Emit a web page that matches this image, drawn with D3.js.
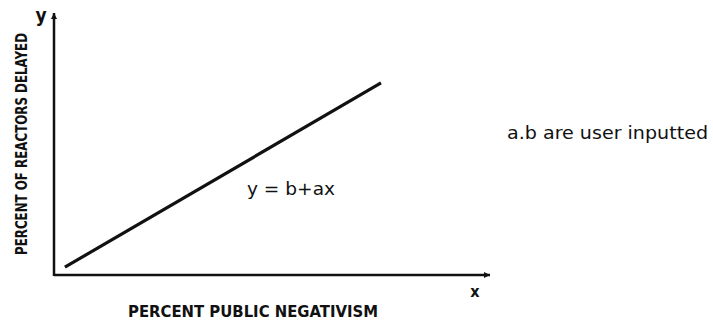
<!DOCTYPE html>
<head>
<meta charset="utf-8">
<title>Reactors delayed</title>
<script src="https://cdn.jsdelivr.net/npm/d3@7"></script>
<style>
  body { margin: 0; background: #fff; }
  text { font-family: "DejaVu Sans Condensed", "Liberation Sans Narrow", sans-serif; font-weight: bold; fill: #111; }
</style>
</head>
<body>
<div id="container"></div>
<script>
// Données : droite y = b + ax (valeurs relatives, 0-100)
const lineX = [2.5, 75];
const lineY = [3, 73.3];
const xLabel = "PERCENT PUBLIC NEGATIVISM";
const yLabel = "PERCENT OF REACTORS DELAYED";
const equation = "y  =  b+ax";
const note = "a.b are user inputted";

const W = 713, H = 321;

const svg = d3.select("#container")
  .append("svg")
  .attr("width", W)
  .attr("height", H);

// Échelles
const x = d3.scaleLinear().domain([0, 100]).range([54, 490]);
const y = d3.scaleLinear().domain([0, 100]).range([275, 13]);

// Flèches
const defs = svg.append("defs");
defs.append("marker")
  .attr("id", "arrow")
  .attr("viewBox", "0 0 10 10")
  .attr("refX", 10).attr("refY", 5)
  .attr("markerWidth", 12).attr("markerHeight", 6)
  .attr("markerUnits", "userSpaceOnUse")
  .attr("orient", "auto")
  .append("path")
  .attr("d", "M0,0 L10,5 L0,10 Z")
  .attr("fill", "#111");

// Axe X
svg.append("line")
  .attr("x1", x(0)).attr("y1", y(0))
  .attr("x2", x(100)).attr("y2", y(0))
  .attr("stroke", "#111").attr("stroke-width", 2.5)
  .attr("marker-end", "url(#arrow)");

// Axe Y
svg.append("line")
  .attr("x1", x(0)).attr("y1", y(0) + 1)
  .attr("x2", x(0)).attr("y2", y(100))
  .attr("stroke", "#111").attr("stroke-width", 2.5)
  .attr("marker-end", "url(#arrow)");

// Droite
svg.append("path")
  .datum(d3.zip(lineX, lineY))
  .attr("d", d3.line().x(d => x(d[0])).y(d => y(d[1])))
  .attr("fill", "none")
  .attr("stroke", "#111")
  .attr("stroke-width", 3.2);

// Textes
svg.append("text")
  .attr("x", 41).attr("y", 22)
  .attr("text-anchor", "middle")
  .style("font-size", "19px")
  .text("y");

svg.append("text")
  .attr("x", 475).attr("y", 297)
  .attr("text-anchor", "middle")
  .style("font-size", "16px")
  .text("x");

svg.append("text")
  .attr("x", 128).attr("y", 317)
  .attr("textLength", 250)
  .attr("lengthAdjust", "spacingAndGlyphs")
  .style("font-size", "15px")
  .text(xLabel);

svg.append("text")
  .attr("transform", "translate(27,144) rotate(-90)")
  .attr("text-anchor", "middle")
  .attr("textLength", 222)
  .attr("lengthAdjust", "spacingAndGlyphs")
  .style("font-size", "15px")
  .text(yLabel);

svg.append("text")
  .attr("x", 247).attr("y", 195)
  .attr("textLength", 88)
  .attr("lengthAdjust", "spacingAndGlyphs")
  .style("font-size", "18px")
  .style("font-weight", "normal")
  .text(equation);

svg.append("text")
  .attr("x", 507).attr("y", 139)
  .attr("textLength", 201)
  .attr("lengthAdjust", "spacingAndGlyphs")
  .style("font-size", "18px")
  .style("font-weight", "normal")
  .text(note);
</script>
</body>
